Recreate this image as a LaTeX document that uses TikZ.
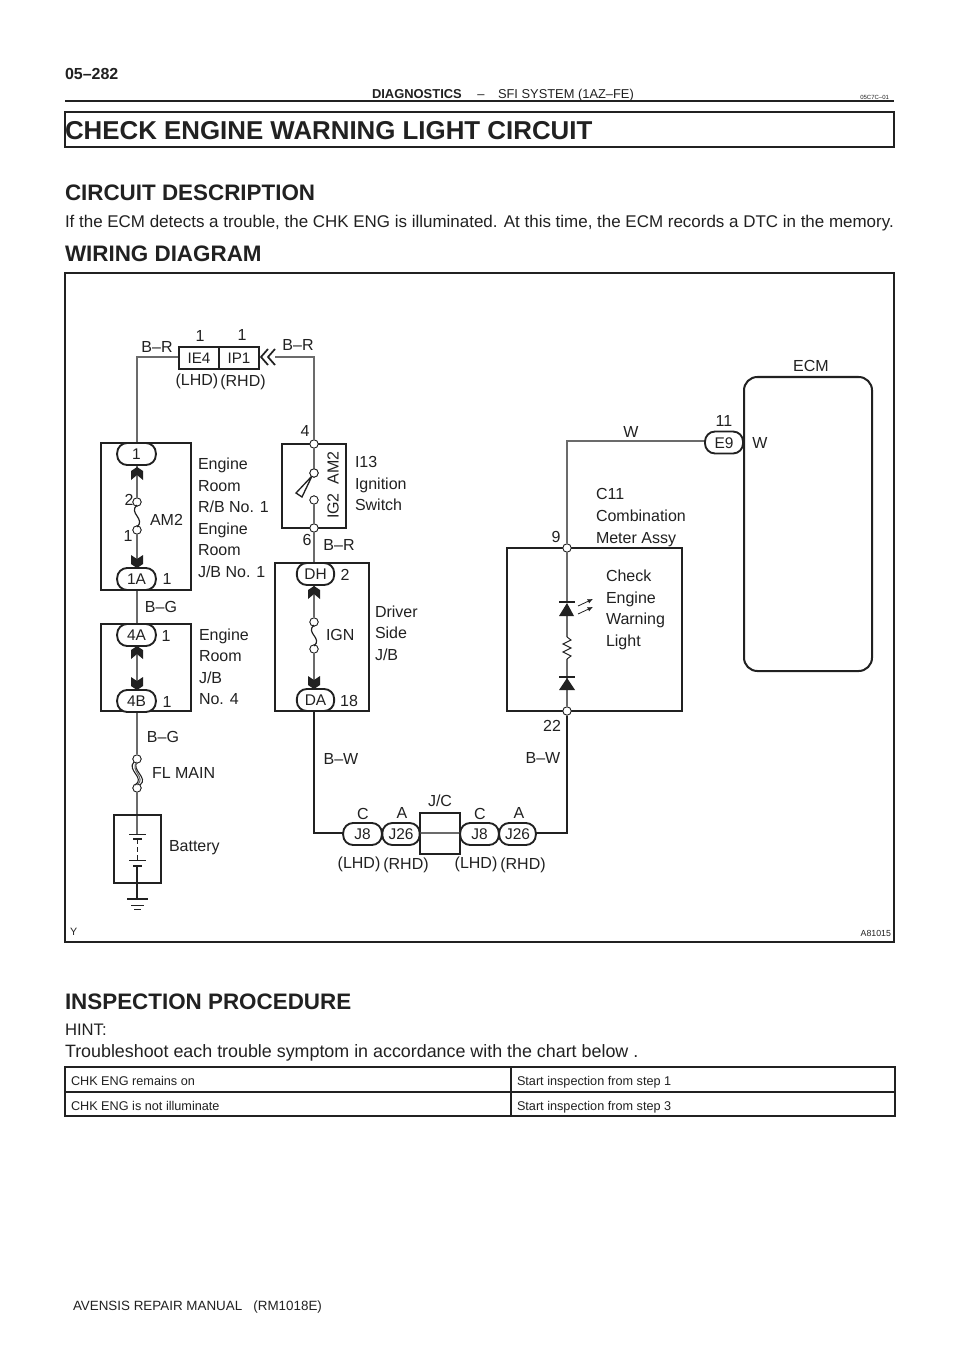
\documentclass[tikz,border=0pt]{standalone}
\usepackage{fontspec}
\setmainfont{Liberation Sans}
\usetikzlibrary{arrows.meta}
\definecolor{ink}{gray}{0.13}
\definecolor{wirec}{gray}{0.42}
\tikzset{
 x=0.75pt,y=-0.75pt,
 lbl/.style={inner sep=0,outer sep=0,text=ink,font=\fontsize{12}{14}\selectfont,anchor=west,text height=8.6pt,text depth=0pt},
 ctr/.style={lbl,anchor=center},
 wire/.style={draw=wirec,line width=0.8pt},
 boxl/.style={draw=ink,line width=1.3pt},
 port/.style={circle,draw=ink,fill=white,line width=0.6pt,minimum size=6.2pt,inner sep=0},
 pillnode/.style={draw=ink,fill=white,line width=1.4pt,rounded corners=7.5pt,inner sep=0,text=ink,
   font=\fontsize{11.6}{13}\selectfont,minimum height=16.5pt,text height=8.3pt,text depth=0pt},
 conn/.style={draw=ink,line width=1.3pt,fill=white,minimum width=30pt,minimum height=16.5pt,inner sep=0,text=ink,
   font=\fontsize{11.4}{13}\selectfont,text height=8.2pt,text depth=0pt},
 head/.style={lbl,font=\fontsize{16.8}{19}\bfseries\selectfont,text height=12pt},
 body/.style={lbl,font=\fontsize{12.72}{15}\selectfont,text height=9.1pt},
 cell/.style={lbl,font=\fontsize{9.5}{11}\selectfont,text height=6.8pt},
}
\newcommand{\uparr}[2]{\fill[ink] ({#1-6},{#2+13}) -- ({#1-6},{#2+4}) -- (#1,#2) -- ({#1+6},{#2+4}) -- ({#1+6},{#2+13}) -- (#1,{#2+8}) -- cycle;}
\newcommand{\dnarr}[2]{\fill[ink] ({#1-6},{#2-13}) -- (#1,{#2-9}) -- ({#1+6},{#2-13}) -- ({#1+6},{#2-4}) -- (#1,#2) -- ({#1-6},{#2-4}) -- cycle;}
\newcommand{\fuse}[3]{\draw[ink,line width=0.9pt] (#1,#2) .. controls ({#1-9},{#2+8}) and ({#1+9},{#3-8}) .. (#1,#3);}
\begin{document}
\begin{tikzpicture}
\useasboundingbox (0,0) rectangle (960,1358);
\fill[white] (0,0) rectangle (960,1358);
% header
\node[lbl,font=\fontsize{12}{14}\bfseries\selectfont] (pg) at (65,74) {05–282};
\node[lbl,font=\fontsize{9.7}{12}\bfseries\selectfont,text height=7pt] (h1) at (372,94) {DIAGNOSTICS};
\node[ctr,font=\fontsize{9.7}{12}\selectfont,text height=7pt] (h2) at (481,94) {–};
\node[lbl,font=\fontsize{9.65}{12}\selectfont,text height=7pt] (h3) at (498,94) {SFI SYSTEM (1AZ–FE)};
\node[lbl,anchor=east,font=\fontsize{4.5}{5}\selectfont,text height=3.2pt] (h4) at (889,97) {05C7C–01};
\draw[ink,line width=1.1pt] (65,101) -- (894,101);
\draw[ink,line width=1pt] (65,112) rectangle (894,147);
\node[lbl,font=\fontsize{19.4}{22}\bfseries\selectfont,text height=14pt] (title) at (65,130) {CHECK ENGINE WARNING LIGHT CIRCUIT};
\node[head] (cd) at (65,193) {CIRCUIT DESCRIPTION};
\node[body] (desc) at (65,221) {If the ECM detects a trouble, the CHK ENG is illuminated. At this time, the ECM records a DTC in the memory.};
\node[head] (wd) at (65,254) {WIRING DIAGRAM};
\draw[ink,line width=1pt] (65,273) rectangle (894,942);
\node[lbl,font=\fontsize{8}{9}\selectfont,text height=5.8pt] (yy) at (70,932) {Y};
\node[lbl,anchor=east,font=\fontsize{6.6}{8}\selectfont,text height=4.7pt] (fig) at (891,933) {A81015};

% nodes: ports
\node[port] (p2) at (137,502) {};
\node[port] (p1) at (137,530) {};
\node[port] (s4) at (314,444) {};
\node[port] (piv) at (314,473) {};
\node[port] (cont) at (314,500) {};
\node[port] (s6) at (314,528) {};
\node[port] (ig1) at (314,622) {};
\node[port] (ig2) at (314,649) {};
\node[port] (fl1) at (137,759) {};
\node[port] (fl2) at (137,788) {};
\node[port] (m9) at (567,548) {};
\node[port] (m22) at (567,711) {};

% wires
\coordinate (tl) at (137,357);
\coordinate (tr) at (314,357);
\coordinate (jl) at (314,833);
\coordinate (jr) at (567,833);
\coordinate (ecml) at (567,441);
\coordinate (rbt) at (137,443);
\coordinate (rbb) at (137,590);
\coordinate (jbt) at (137,624);
\coordinate (jbb) at (137,711);
\coordinate (dat) at (314,711);
\coordinate (dht) at (314,563);
\coordinate (ie) at (179,357);
\coordinate (ip) at (275,357);
\coordinate (jct) at (420,833);
\coordinate (jcb) at (460,833);
\coordinate (jl2) at (536,833);
\coordinate (e9l) at (705,441);
\draw[wire] (ie) -- (tl) -- (rbt) -- (137,467);
\draw[wire] (137,467) -- (p2);
\draw[wire] (p1) -- (137,568);
\draw[wire] (rbb) -- (jbt) -- (jbb) -- (fl1);
\draw[wire] (137,645) -- (137,690);
\draw[wire] (fl2) -- (137,834);
\draw[wire] (ip) -- (tr) -- (s4) -- (piv);
\draw[wire] (cont) -- (s6) -- (dht) -- (314,598);
\draw[wire] (314,585) -- (ig1);
\draw[wire] (ig2) -- (314,689);
\draw[ink,line width=0.9pt] (dat) -- (jl) -- (343,833);
\draw[ink,line width=0.9pt] (jl2) -- (jr) -- (m22);
\draw[wire] (m22) -- (567,659);
\draw[wire] (567,637) -- (567,616);
\draw[wire] (567,602) -- (m9);
\draw[wire] (m9) -- (ecml) -- (e9l);

% boxes
\draw[boxl] (101,443) rectangle (191,590);
\draw[boxl] (101,624) rectangle (191,711);
\draw[boxl] (282,444) rectangle (346,528);
\draw[boxl] (275,563) rectangle (369,711);
\draw[boxl] (507,548) rectangle (682,711);
\draw[boxl] (114,815) rectangle (161,883);
\draw[boxl] (420,813) rectangle (460,854);
\draw[wire] (jct) -- (jcb);
\draw[boxl,line width=1.5pt,rounded corners=10pt] (744,377) rectangle (872,671);
\foreach \n in {p2,p1,s4,piv,cont,s6,ig1,ig2,fl1,fl2,m9,m22}{\draw[ink,fill=white,line width=0.6pt] (\n) circle (3.1pt);}

% IE4 connector
\node[conn] (ie4) at (199,358) {IE4};
\node[conn] (ip1) at (239,358) {IP1};
\draw[ink,line width=1.3pt] (268,349) -- (261,357) -- (268,365) (275,349) -- (268,357) -- (275,365);

% pills
\node[pillnode,minimum width=29pt] (n1) at (136.5,454) {1};
\node[pillnode,minimum width=29pt] (n1a) at (136.5,579) {1A};
\node[pillnode,minimum width=29pt] (n4a) at (136.5,635) {4A};
\node[pillnode,minimum width=29pt] (n4b) at (136.5,701) {4B};
\node[pillnode,minimum width=28pt] (dh) at (315.5,574) {DH};
\node[pillnode,minimum width=28pt] (da) at (315.5,700) {DA};
\node[pillnode,minimum width=29pt] (j8a) at (362.5,834) {J8};
\node[pillnode,minimum width=28pt] (j26a) at (401,834) {J26};
\node[pillnode,minimum width=29pt] (j8b) at (479.5,834) {J8};
\node[pillnode,minimum width=27.5pt] (j26b) at (517.5,834) {J26};
\node[pillnode,minimum width=28.5pt] (e9) at (724,442.5) {E9};

% arrows
\uparr{137}{467} \dnarr{137}{568}
\uparr{137}{646} \dnarr{137}{690}
\uparr{314}{586} \dnarr{314}{689}

% fuses
\fuse{137}{505}{527}
\fuse{314}{625}{646}
\draw[ink,line width=0.8pt] (134,762) .. controls (126,770) and (146,778) .. (135,785);
\draw[ink,line width=0.8pt] (137,762) .. controls (131,770) and (149,778) .. (140,785);
\draw[wirec,line width=0.8pt] (137,762) .. controls (129,770) and (147,778) .. (137,785);

% switch blade
\draw[ink,line width=1pt,fill=white] (312,476) -- (296,493) -- (302,497) -- cycle;
\draw[ink,fill=white,line width=0.6pt] (piv) circle (3.1pt);

% LED and resistor
\fill[ink] (567,603) -- (574,616) -- (559,616) -- cycle;
\draw[ink,line width=1pt] (559,602) -- (575,602);
\fill[ink] (567,678) -- (575,690) -- (559,690) -- cycle;
\draw[ink,line width=1pt] (559,677) -- (575,677);
\draw[ink,line width=0.7pt] (567,637) -- (571,640) -- (563,644) -- (571,648) -- (563,652) -- (571,656) -- (567,659);
\draw[ink,line width=0.6pt,-{Latex[length=4pt,width=3.5pt]}] (578,606) -- (593,599);
\draw[ink,line width=0.6pt,-{Latex[length=4pt,width=3.5pt]}] (578,614) -- (593,607);

% battery
\draw[ink,line width=0.7pt] (129,834) -- (146,834);
\draw[ink,line width=1.4pt] (133,839) -- (142,839);
\draw[ink,line width=0.7pt] (137,839) -- (137,844);
\draw[ink,line width=0.7pt] (137,847) -- (137,852);
\draw[ink,line width=0.7pt] (137,855) -- (137,860);
\draw[ink,line width=0.7pt] (129,860) -- (146,860);
\draw[ink,line width=1.4pt] (133,866) -- (142,866);
\draw[ink,line width=0.8pt] (137,866) -- (137,899);
\draw[ink,line width=1.4pt] (127,899) -- (148,899);
\draw[ink,line width=0.5pt] (131,905) -- (144,905);
\draw[ink,line width=0.5pt] (134,909) -- (141,909);

% labels
\node[ctr] (a1) at (157,347) {B–R};
\node[ctr] (a2) at (200,336) {1};
\node[ctr] (a3) at (242,335) {1};
\node[ctr] (a4) at (298,345) {B–R};
\node[ctr] (a5) at (197,380) {(LHD)};
\node[ctr] (a6) at (243,381) {(RHD)};
\node[ctr] (ecm) at (811,366) {ECM};
\node[ctr] (b1) at (305,431) {4};
\node[ctr] (w1) at (631,432) {W};
\node[ctr] (e11) at (724,421) {11};
\node[ctr] (wr) at (760,443) {W};
\node[lbl] (t1) at (198,464) {Engine};
\node[lbl] (t2) at (198,486) {Room};
\node[lbl] (t3) at (198,507) {R/B No. 1};
\node[lbl] (t4) at (198,529) {Engine};
\node[lbl] (t5) at (198,550) {Room};
\node[lbl] (t6) at (198,572) {J/B No. 1};
\node[ctr] (b2) at (129,500) {2};
\node[ctr] (b3) at (128,536) {1};
\node[lbl] (am2) at (150,520) {AM2};
\node[ctr] (b4) at (167,579) {1};
\node[ctr] (bg1) at (161,607) {B–G};
\node[ctr] (b5) at (166,636) {1};
\node[ctr] (b6) at (167,702) {1};
\node[lbl] (u1) at (199,635) {Engine};
\node[lbl] (u2) at (199,656) {Room};
\node[lbl] (u3) at (199,678) {J/B};
\node[lbl] (u4) at (199,699) {No. 4};
\node[ctr] (bg2) at (163,737) {B–G};
\node[lbl] (flm) at (152,773) {FL MAIN};
\node[lbl] (bat) at (169,846) {Battery};
\node[ctr,rotate=90] (am2b) at (333,468) {AM2};
\node[ctr,rotate=90] (ig2l) at (333,506) {IG2};
\node[lbl] (v1) at (355,462) {I13};
\node[lbl] (v2) at (355,484) {Ignition};
\node[lbl] (v3) at (355,505) {Switch};
\node[ctr] (b7) at (307,540) {6};
\node[ctr] (br3) at (339,545) {B–R};
\node[ctr] (b8) at (345,575) {2};
\node[ctr] (b9) at (349,701) {18};
\node[lbl] (ign) at (326,635) {IGN};
\node[lbl] (d1) at (375,612) {Driver};
\node[lbl] (d2) at (375,633) {Side};
\node[lbl] (d3) at (375,655) {J/B};
\node[ctr] (bw1) at (341,759) {B–W};
\node[ctr] (bw2) at (543,758) {B–W};
\node[ctr] (ca) at (363,814) {C};
\node[ctr] (aa) at (402,813) {A};
\node[ctr] (jc) at (440,801) {J/C};
\node[ctr] (cb) at (480,814) {C};
\node[ctr] (ab) at (519,813) {A};
\node[ctr] (l1) at (359,863) {(LHD)};
\node[ctr] (r1) at (406,864) {(RHD)};
\node[ctr] (l2) at (476,863) {(LHD)};
\node[ctr] (r2) at (523,864) {(RHD)};
\node[ctr] (m9l) at (556,537) {9};
\node[ctr] (m22l) at (552,726) {22};
\node[lbl] (c1) at (596,494) {C11};
\node[lbl] (c2) at (596,516) {Combination};
\node[lbl] (c3) at (596,538) {Meter Assy};
\node[lbl] (k1) at (606,576) {Check};
\node[lbl] (k2) at (606,598) {Engine};
\node[lbl] (k3) at (606,619) {Warning};
\node[lbl] (k4) at (606,641) {Light};

% bottom
\node[head] (ip0) at (65,1001) {INSPECTION PROCEDURE};
\node[body,font=\fontsize{12.5}{15}\selectfont] (hint) at (65,1029) {HINT:};
\node[body,font=\fontsize{13.4}{15}\selectfont] (tr0) at (65,1051) {Troubleshoot each trouble symptom in accordance with the chart below .};
\draw[ink,line width=1.1pt] (65,1067) rectangle (895,1116);
\draw[ink,line width=1.1pt] (65,1092) -- (895,1092);
\draw[ink,line width=1.1pt] (511,1067) -- (511,1116);
\node[cell] (c11) at (71,1081) {CHK ENG remains on};
\node[cell] (c12) at (517,1081) {Start inspection from step 1};
\node[cell] (c21) at (71,1106) {CHK ENG is not illuminate};
\node[cell] (c22) at (517,1106) {Start inspection from step 3};
\node[lbl,font=\fontsize{10.05}{12}\selectfont,text height=7.2pt] (foot) at (73,1306) {AVENSIS REPAIR MANUAL\ \ \ (RM1018E)};
\end{tikzpicture}
\end{document}
